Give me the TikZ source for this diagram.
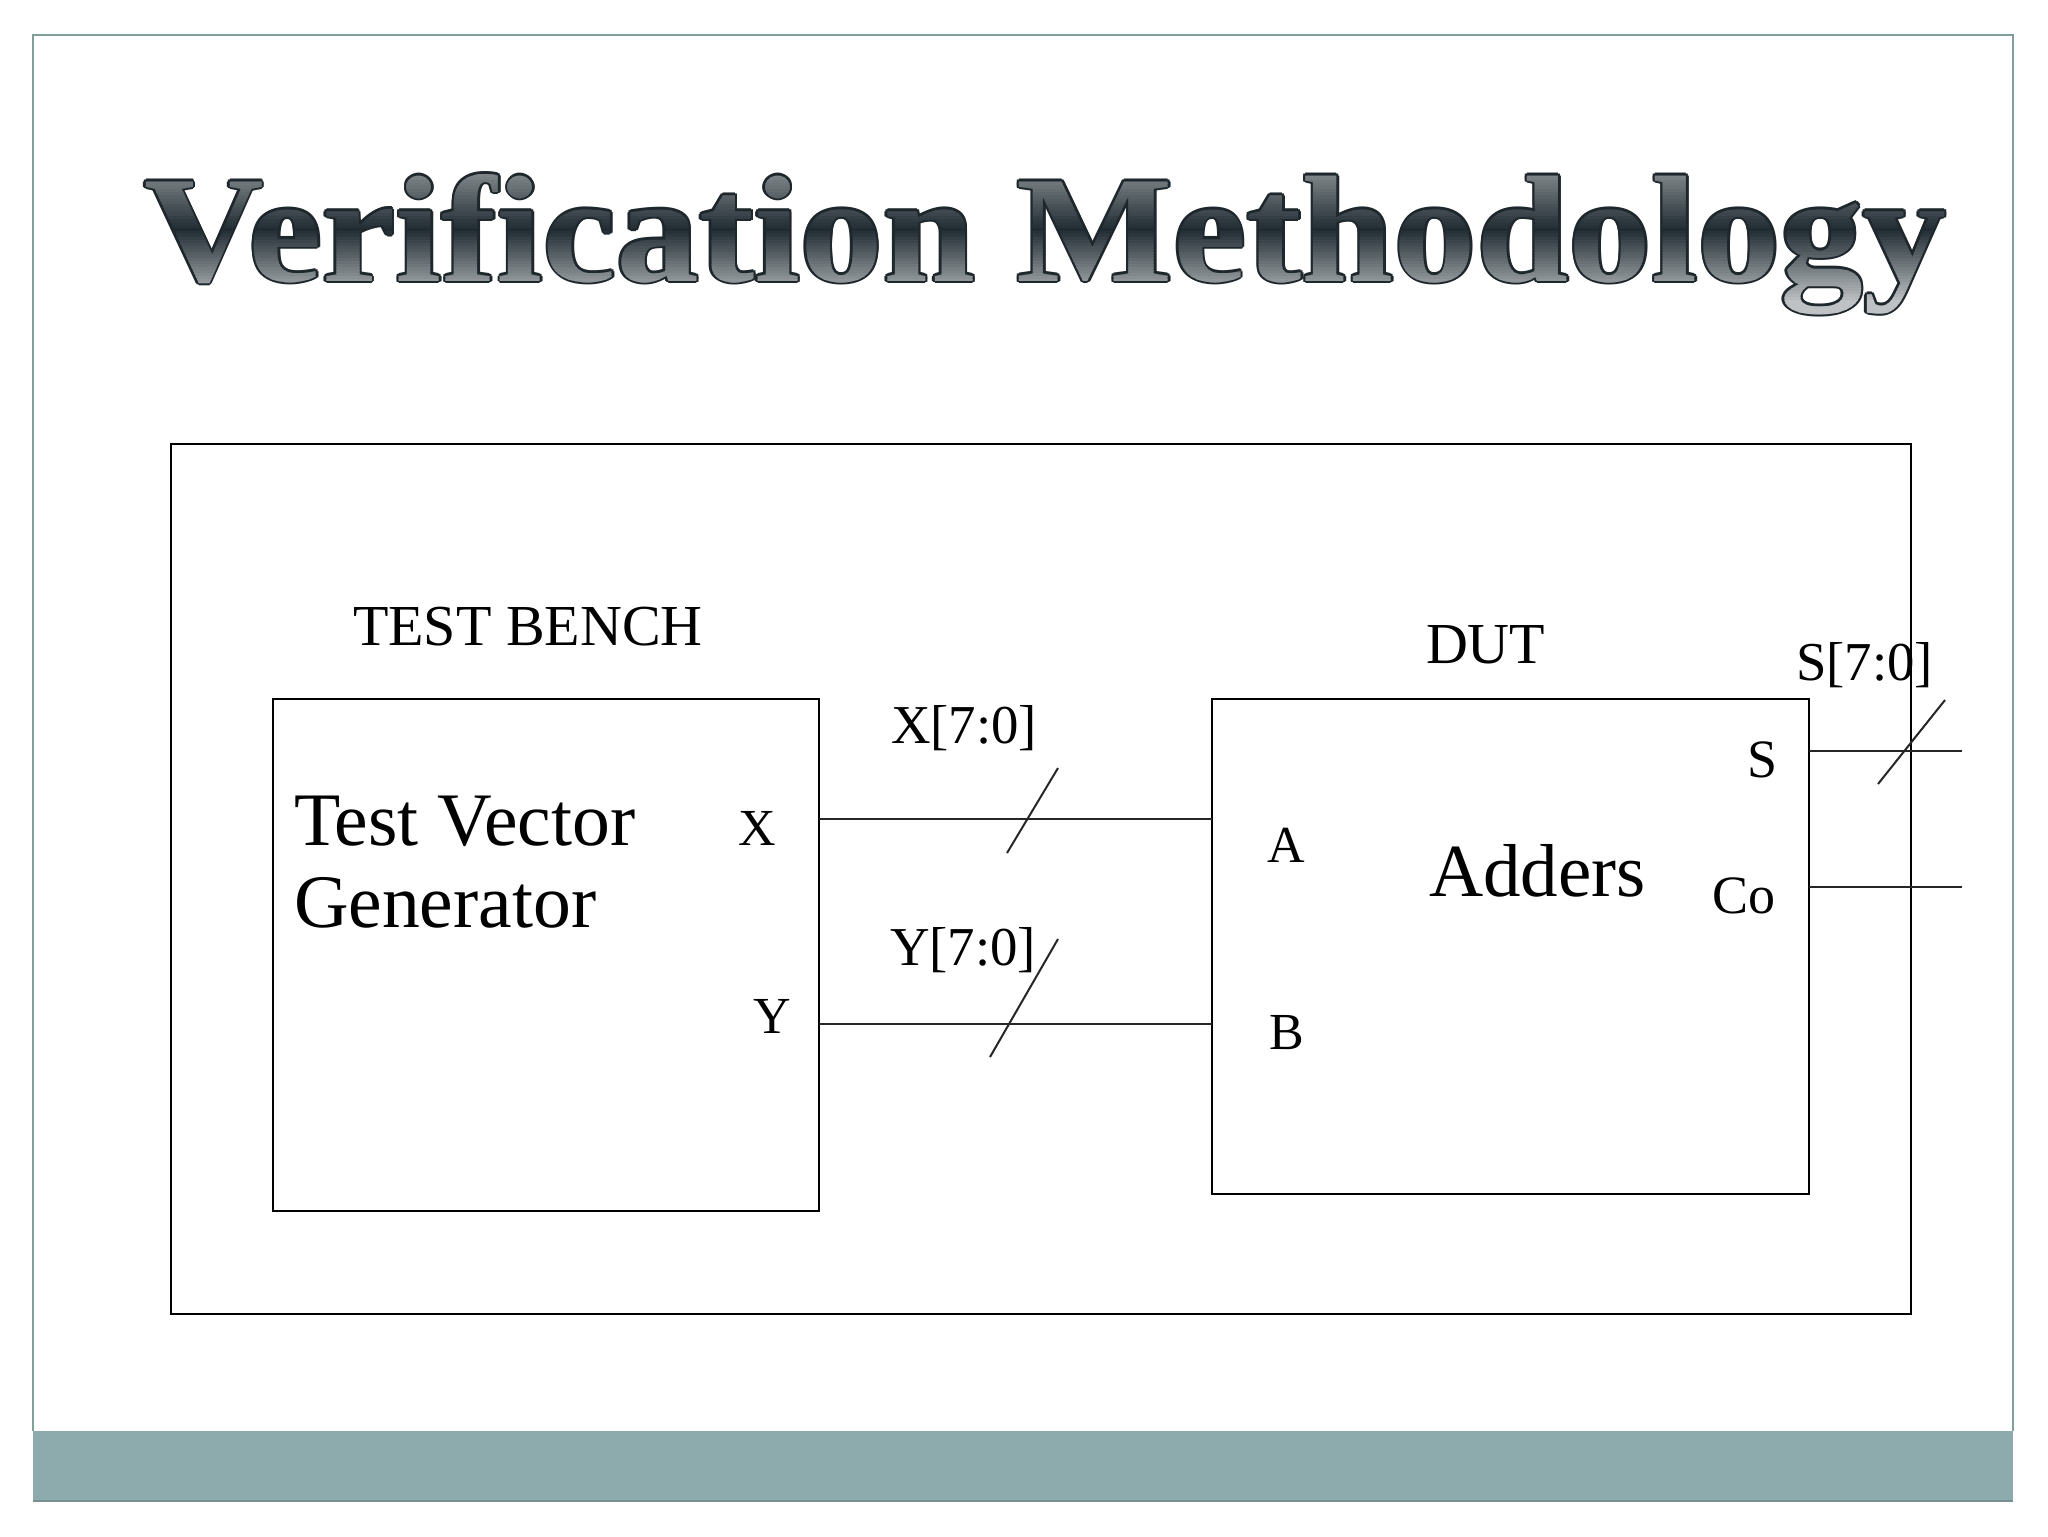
\documentclass[tikz,border=0pt]{standalone}
\usepackage{fontspec}
\setmainfont{Liberation Serif}
\usepackage{graphicx}
\definecolor{tdark}{HTML}{18242B}
\definecolor{tedge}{HTML}{1E272C}
\definecolor{bandc}{HTML}{8DABAD}
\definecolor{bandedge}{HTML}{77908F}
\definecolor{framec}{HTML}{7F9F99}
\newcommand{\ttltext}{\resizebox{450.5pt}{26.75pt}{\bfseries Verification Methodology}}
\tikzset{
  ttl/.style={anchor=base west, inner sep=0pt, outer sep=0pt},
  lbl/.style={anchor=base west, inner sep=0pt, outer sep=0pt, text=black},
  blk/.style={draw=black, line width=0.65pt, anchor=north west, inner sep=0pt, outer sep=0pt},
  wire/.style={draw=black!85, line width=0.5pt},
  busmark/.style={draw=black!85, line width=0.5pt}
}
\begin{document}
\begin{tikzpicture}[x=0.25pt, y=-0.25pt]
\useasboundingbox (0,0) rectangle (2048,1536);
\fill[white] (0,0) rectangle (2048,1536);
% slide frame
\draw[framec, line width=0.5pt] (33,1431) -- (33,35) -- (2013,35) -- (2013,1431);
\fill[bandc] (33,1431) rectangle (2013,1502);
\draw[bandedge, line width=0.6pt] (33,1501) -- (2013,1501);
% title outline
\foreach \dx/\dy [count=\i] in {2.5/0,-2.5/0,0/2.5,0/-2.5,1.8/1.8,-1.8/1.8,1.8/-1.8,-1.8/-1.8}{
  \node[ttl, text=tedge] (title-o\i) at ({144+\dx},{281+\dy}) {\ttltext};
}
% title gradient fill
\foreach \ya [count=\i] in {150,153,...,339}{
  \pgfmathtruncatemacro{\p}{\ya<228 ? max(45, 97-(228-\ya)*0.75) : max(28, 97-(\ya-228)*0.95)}
  \pgfmathtruncatemacro{\yb}{\ya+3}
  \begin{scope}
    \clip (0,\ya) rectangle (2048,\yb+0.6);
    \node[ttl, text=tdark!\p!white] (title-\i) at (144,281) {\ttltext};
  \end{scope}
}
% outer test bench box
\node[blk, minimum width=435pt, minimum height=217.5pt] (bench) at (171,444) {};
\node[lbl, font=\fontsize{14.5pt}{16pt}\selectfont] (benchlbl) at (353,645) {TEST BENCH};
% test vector generator
\node[blk, minimum width=136.5pt, minimum height=128pt] (tvg) at (273,699) {};
\node[lbl, font=\fontsize{18.9pt}{20pt}\selectfont] (tvg1) at (294,845) {Test Vector};
\node[lbl, font=\fontsize{18.9pt}{20pt}\selectfont] (tvg2) at (294,927) {Generator};
\node[lbl, font=\fontsize{13pt}{15pt}\selectfont] (xport) at (738,845) {X};
\node[lbl, font=\fontsize{13pt}{15pt}\selectfont] (yport) at (753,1033) {Y};
% DUT
\node[blk, minimum width=149.25pt, minimum height=123.75pt] (dut) at (1212,699) {};
\node[lbl, font=\fontsize{14.5pt}{16pt}\selectfont] (dutlbl) at (1426,663) {DUT};
\node[lbl, font=\fontsize{18.75pt}{20pt}\selectfont] (adders) at (1429,896) {Adders};
\node[lbl, font=\fontsize{13pt}{15pt}\selectfont] (aport) at (1267,862) {A};
\node[lbl, font=\fontsize{13pt}{15pt}\selectfont] (bport) at (1269,1049) {B};
\node[lbl, font=\fontsize{13.5pt}{15pt}\selectfont] (sport) at (1747,777) {S};
\node[lbl, font=\fontsize{13.5pt}{15pt}\selectfont] (coport) at (1712,913) {Co};
% bus labels
\node[lbl, font=\fontsize{13.7pt}{15pt}\selectfont] (xbus) at (891,743) {X[7:0]};
\node[lbl, font=\fontsize{13.7pt}{15pt}\selectfont] (ybus) at (890,965) {Y[7:0]};
\node[lbl, font=\fontsize{13.7pt}{15pt}\selectfont] (sbus) at (1796,680) {S[7:0]};
% wires
\coordinate (xw) at (0,819);
\coordinate (yw) at (0,1024);
\coordinate (sw) at (0,751);
\coordinate (cw) at (0,887);
\coordinate (send) at (1962,751);
\coordinate (cend) at (1962,887);
\draw[wire] (xw -| tvg.east) -- (xw -| dut.west);
\draw[wire] (yw -| tvg.east) -- (yw -| dut.west);
\draw[wire] (sw -| dut.east) -- (send);
\draw[wire] (cw -| dut.east) -- (cend);
% bus slashes
\coordinate (xs1) at (1007,853); \coordinate (xs2) at (1058,768);
\coordinate (ys1) at (990,1057); \coordinate (ys2) at (1058,939);
\coordinate (ss1) at (1878,784); \coordinate (ss2) at (1945,700);
\draw[busmark] (xs1) -- (xs2);
\draw[busmark] (ys1) -- (ys2);
\draw[busmark] (ss1) -- (ss2);
\end{tikzpicture}
\end{document}
